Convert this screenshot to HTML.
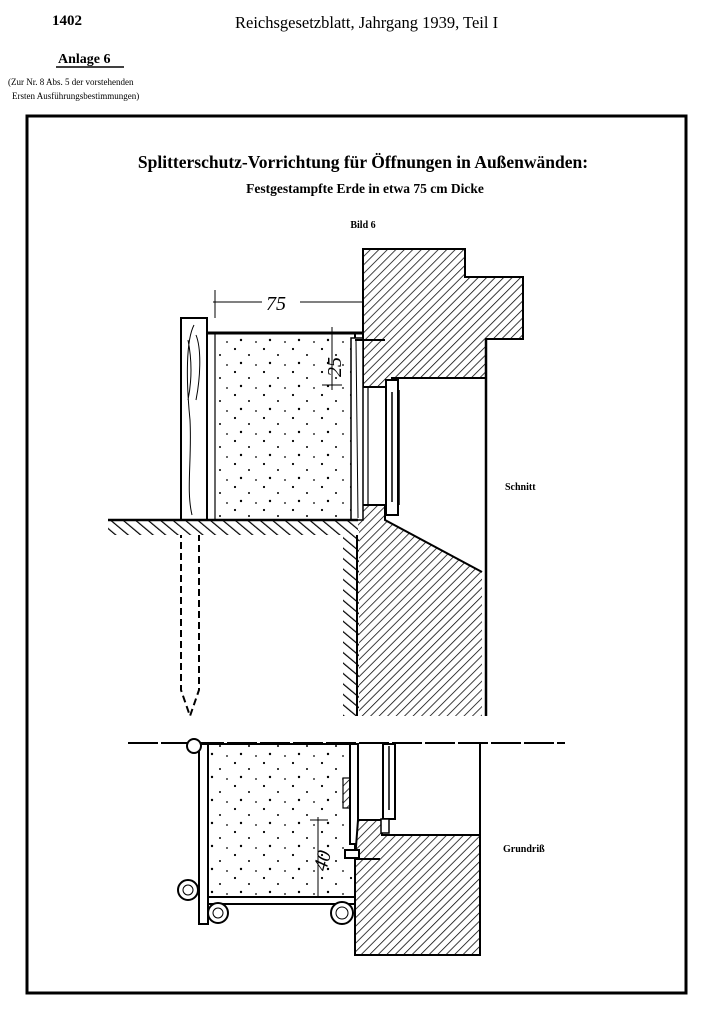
<!DOCTYPE html>
<html><head><meta charset="utf-8"><style>
html,body{margin:0;padding:0;background:#fff;}
body{width:710px;height:1008px;position:relative;overflow:hidden;font-family:"Liberation Serif",serif;}
</style></head><body>
<svg width="710" height="1008" viewBox="0 0 710 1008" xmlns="http://www.w3.org/2000/svg">
<defs>
<pattern id="h" width="6" height="6" patternUnits="userSpaceOnUse" patternTransform="rotate(45)">
<rect width="6" height="6" fill="#fff"/><line x1="0" y1="0" x2="0" y2="6" stroke="#000" stroke-width="1.5"/></pattern>
<pattern id="g" width="8" height="8" patternUnits="userSpaceOnUse" patternTransform="rotate(-50)">
<rect width="8" height="8" fill="#fff"/><line x1="0" y1="0" x2="0" y2="8" stroke="#000" stroke-width="2.4"/></pattern>
<pattern id="d" width="29" height="23" patternUnits="userSpaceOnUse">
<rect width="29" height="23" fill="#fff"/>
<circle cx="3" cy="4" r="1.1" fill="#000"/><circle cx="17" cy="10" r="1" fill="#000"/><circle cx="9" cy="18" r="1.2" fill="#000"/><circle cx="24" cy="20" r="0.9" fill="#000"/>
</pattern>
</defs>
<!-- header -->
<text x="52" y="25" font-size="15" font-weight="bold">1402</text>
<text x="235" y="28" font-size="16.5">Reichsgesetzblatt, Jahrgang 1939, Teil I</text>
<text x="58" y="63" font-size="14" font-weight="bold">Anlage 6</text>
<line x1="56" y1="67" x2="124" y2="67" stroke="#000" stroke-width="1.5"/>
<text x="8" y="85" font-size="9">(Zur Nr. 8 Abs. 5 der vorstehenden</text>
<text x="12" y="99" font-size="9">Ersten Ausführungsbestimmungen)</text>
<!-- frame -->
<rect x="27" y="116" width="659" height="877" fill="none" stroke="#000" stroke-width="3"/>
<text x="363" y="168" font-size="17.5" font-weight="bold" text-anchor="middle">Splitterschutz-Vorrichtung für Öffnungen in Außenwänden:</text>
<text x="365" y="193" font-size="13.5" font-weight="bold" text-anchor="middle">Festgestampfte Erde in etwa 75 cm Dicke</text>
<text x="363" y="228" font-size="10" font-weight="bold" text-anchor="middle">Bild 6</text>

<!-- upper section: wall -->
<path d="M363 249 H465 V277 H523 V339 H486 V378 H392 V387 H363 Z" fill="url(#h)" stroke="#000" stroke-width="2"/>
<path d="M355 520 L363 505 H385 V520 L482 572 V716 H357 Z" fill="url(#h)" stroke="none"/>
<path d="M363 505 H385 V520 L482 572" fill="none" stroke="#000" stroke-width="2"/>
<rect x="343" y="530" width="16" height="186" fill="url(#g)"/>
<line x1="357" y1="520" x2="357" y2="716" stroke="#000" stroke-width="2"/>
<line x1="486" y1="339" x2="486" y2="716" stroke="#000" stroke-width="2.5"/>
<!-- window -->
<rect x="386" y="380" width="12" height="135" fill="#fff" stroke="#000" stroke-width="2"/>
<line x1="392" y1="392" x2="392" y2="502" stroke="#000" stroke-width="1.5"/>
<line x1="399" y1="390" x2="399" y2="505" stroke="#000" stroke-width="1.5"/>
<line x1="368" y1="388" x2="368" y2="505" stroke="#000" stroke-width="1.2"/>
<!-- earth box -->
<rect x="207" y="333" width="148" height="187" fill="url(#d)" stroke="#000" stroke-width="2"/>
<rect x="351" y="338" width="12" height="182" fill="#fff" stroke="#000" stroke-width="1.5"/>
<line x1="356" y1="340" x2="358" y2="518" stroke="#000" stroke-width="1"/>
<rect x="207" y="333" width="8" height="187" fill="#fff" stroke="#000" stroke-width="1.2"/>
<line x1="207" y1="333" x2="363" y2="333" stroke="#000" stroke-width="3"/>
<line x1="355" y1="340" x2="385" y2="340" stroke="#000" stroke-width="2"/>
<!-- post -->
<rect x="181" y="318" width="26" height="202" fill="#fff" stroke="#000" stroke-width="2"/>
<path d="M194 325 C186 340 186 380 190 420 C192 460 186 490 192 515 M196 335 C202 350 200 380 196 400 M188 340 C192 360 192 380 188 400" fill="none" stroke="#000" stroke-width="1"/>
<path d="M181 520 V690 L190 716 L199 690 V520" fill="none" stroke="#000" stroke-width="2" stroke-dasharray="7,4"/>
<!-- ground -->
<rect x="108" y="520" width="250" height="15" fill="url(#g)"/>
<line x1="108" y1="520" x2="358" y2="520" stroke="#000" stroke-width="2.5"/>
<!-- dims -->
<line x1="213" y1="302" x2="262" y2="302" stroke="#000" stroke-width="1"/>
<line x1="300" y1="302" x2="362" y2="302" stroke="#000" stroke-width="1"/>
<line x1="215" y1="290" x2="215" y2="318" stroke="#000" stroke-width="1"/>
<text x="266" y="310" font-size="20" font-style="italic">75</text>
<line x1="332" y1="327" x2="332" y2="390" stroke="#000" stroke-width="1"/>
<line x1="322" y1="385" x2="342" y2="385" stroke="#000" stroke-width="1"/>
<text x="0" y="0" font-size="20" font-style="italic" transform="translate(341 377) rotate(-90)">25</text>
<text x="505" y="490" font-size="10" font-weight="bold">Schnitt</text>

<!-- lower plan -->
<line x1="128" y1="743" x2="565" y2="743" stroke="#000" stroke-width="2" stroke-dasharray="30,3"/>
<rect x="208" y="744" width="147" height="153" fill="url(#d)" stroke="#000" stroke-width="2"/>
<rect x="199" y="744" width="9" height="180" fill="#fff" stroke="#000" stroke-width="2"/>
<rect x="208" y="897" width="147" height="7" fill="#fff" stroke="#000" stroke-width="2"/>
<rect x="343" y="778" width="7" height="30" fill="url(#h)" stroke="#000" stroke-width="1.2"/>
<rect x="350" y="744" width="8" height="100" fill="#fff" stroke="#000" stroke-width="2"/>
<path d="M358 820 H382 V835 H480 V955 H355 V860 Z" fill="url(#h)" stroke="#000" stroke-width="2"/>
<rect x="345" y="850" width="14" height="8" fill="#fff" stroke="#000" stroke-width="2"/>
<line x1="355" y1="859" x2="380" y2="859" stroke="#000" stroke-width="2"/>
<line x1="480" y1="744" x2="480" y2="835" stroke="#000" stroke-width="2"/>
<line x1="358" y1="820" x2="382" y2="820" stroke="#000" stroke-width="2"/>
<rect x="383" y="744" width="12" height="75" fill="#fff" stroke="#000" stroke-width="2"/>
<line x1="389" y1="746" x2="389" y2="810" stroke="#000" stroke-width="1.5"/>
<rect x="381" y="819" width="8" height="14" fill="#fff" stroke="#000" stroke-width="1.5"/>
<line x1="318" y1="817" x2="318" y2="896" stroke="#000" stroke-width="1"/>
<line x1="310" y1="820" x2="328" y2="820" stroke="#000" stroke-width="1"/>
<text x="0" y="0" font-size="20" font-style="italic" transform="translate(326 872) rotate(-75)">40</text>
<g fill="#fff" stroke="#000" stroke-width="2">
<circle cx="194" cy="746" r="7"/><circle cx="188" cy="890" r="10"/><circle cx="218" cy="913" r="10"/><circle cx="342" cy="913" r="11"/>
</g>
<g fill="none" stroke="#000" stroke-width="1">
<circle cx="188" cy="890" r="5"/><circle cx="218" cy="913" r="5"/><circle cx="342" cy="913" r="6"/>
</g>
<text x="503" y="852" font-size="10" font-weight="bold">Grundriß</text>
</svg>
</body></html>
